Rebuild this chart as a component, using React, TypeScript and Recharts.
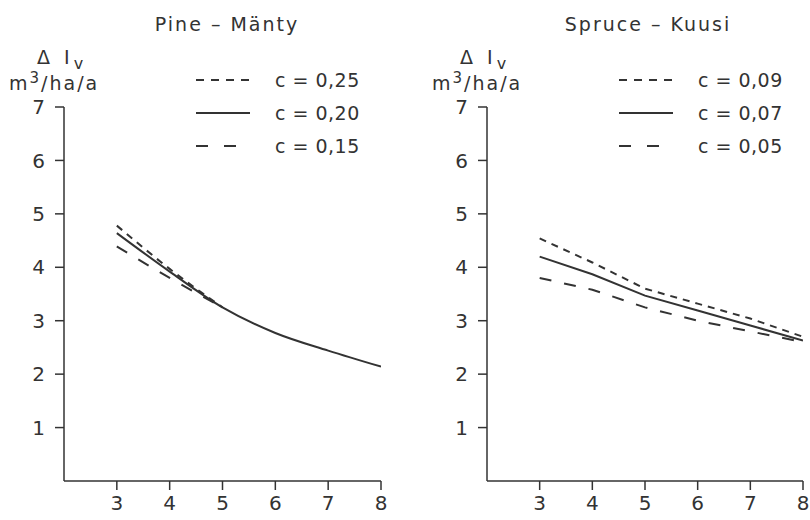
import React from "react";
import { LineChart, Line, XAxis, YAxis } from "recharts";

// stand age classes on the x axis
const xClasses = [3, 4, 5, 6, 7, 8];
const yTicks = [1, 2, 3, 4, 5, 6, 7];

// Pine - Mänty, ΔIv by c
const pineC25 = [4.78, 3.97, 3.25];
const pineC20 = [4.64, 3.92, 3.25, 2.77, 2.44, 2.14];
const pineC15 = [4.39, 3.8, 3.25];

// Spruce - Kuusi, ΔIv by c
const spruceC09 = [4.54, 4.09, 3.6, 3.32, 3.04, 2.7];
const spruceC07 = [4.2, 3.87, 3.47, 3.19, 2.91, 2.63];
const spruceC05 = [3.8, 3.58, 3.25, 3.0, 2.8, 2.6];

const INK = "#333";
const FONT = "'DejaVu Sans', sans-serif";

const SHORT = "7 6";
const LONG = "12 13";

type Series = { key: string; label: string; values: number[]; dash?: string };

const pineSeries: Series[] = [
  { key: "a", label: "c = 0,25", values: pineC25, dash: SHORT },
  { key: "b", label: "c = 0,20", values: pineC20 },
  { key: "c", label: "c = 0,15", values: pineC15, dash: LONG },
];
const spruceSeries: Series[] = [
  { key: "a", label: "c = 0,09", values: spruceC09, dash: SHORT },
  { key: "b", label: "c = 0,07", values: spruceC07 },
  { key: "c", label: "c = 0,05", values: spruceC05, dash: LONG },
];

function toRows(series: Series[]) {
  return xClasses.map((x, i) => {
    const row: Record<string, number | null> = { x };
    series.forEach((s) => {
      row[s.key] = s.values[i] ?? null;
    });
    return row;
  });
}

// line key, drawn beside the plot
function KeyBox({ series, left }: { series: Series[]; left: number }) {
  return (
    <svg width={200} height={100} style={{ position: "absolute", left, top: 68, overflow: "visible" }}>
      {series.map((s, i) => {
        const long = s.dash === LONG;
        return (
          <g key={s.key} transform={`translate(0, ${12 + i * 33})`}>
            <line
              x1={0}
              x2={long ? 40 : 54}
              y1={0}
              y2={0}
              stroke={INK}
              strokeWidth={2}
              strokeDasharray={s.dash === SHORT ? "8 7" : long ? "12 16" : undefined}
            />
            <text x={79} y={0} dy="0.36em" fontSize={19} fill={INK} fontFamily={FONT} letterSpacing={0.5}>
              {s.label}
            </text>
          </g>
        );
      })}
    </svg>
  );
}

function Panel(props: {
  series: Series[];
  left: number;
  marginLeft: number;
  marginRight: number;
  curve: "monotone" | "linear";
}) {
  const rows = toRows(props.series);
  return (
    <div style={{ position: "absolute", left: props.left, top: 0 }}>
      <LineChart
        width={405}
        height={520}
        data={rows}
        margin={{ top: 107, right: props.marginRight, bottom: 0, left: props.marginLeft }}
      >
        <XAxis
          dataKey="x"
          type="number"
          domain={[2, 8]}
          ticks={xClasses}
          height={39}
          tickSize={9}
          tickMargin={6}
          stroke={INK}
          strokeWidth={1.5}
          tick={{ fill: INK, fontSize: 20, fontFamily: FONT }}
          allowDataOverflow
        />
        <YAxis
          type="number"
          domain={[0, 7]}
          ticks={yTicks}
          width={40}
          tickSize={9}
          tickMargin={10}
          stroke={INK}
          strokeWidth={1.5}
          tick={{ fill: INK, fontSize: 20, fontFamily: FONT }}
        />
        {props.series.map((s) => (
          <Line
            key={s.key}
            dataKey={s.key}
            type={props.curve}
            stroke={INK}
            strokeWidth={2}
            strokeDasharray={s.dash}
            dot={false}
            activeDot={false}
            isAnimationActive={false}
          />
        ))}
      </LineChart>
    </div>
  );
}

function AxisTitle({ left }: { left: number }) {
  return (
    <>
      <div style={{ position: "absolute", left: left + 28, top: 46, fontSize: 19, letterSpacing: 4 }}>
        Δ I<span style={{ fontSize: 16, position: "relative", top: 5, letterSpacing: 0 }}>v</span>
      </div>
      <div style={{ position: "absolute", left, top: 69, fontSize: 19, letterSpacing: 2 }}>
        m<sup style={{ fontSize: 15, verticalAlign: "7px" }}>3</sup>/ha/a
      </div>
    </>
  );
}

export default function App() {
  return (
    <div
      style={{
        position: "absolute",
        left: 0,
        top: 0,
        width: 810,
        height: 520,
        background: "#fff",
        color: INK,
        fontFamily: FONT,
        overflow: "hidden",
      }}
    >
      <div style={{ position: "absolute", left: 147, width: 160, top: 13, textAlign: "center", fontSize: 19, letterSpacing: 2 }}>
        Pine – Mänty
      </div>
      <div style={{ position: "absolute", left: 563, width: 170, top: 13, textAlign: "center", fontSize: 19, letterSpacing: 2 }}>
        Spruce – Kuusi
      </div>
      <AxisTitle left={9} />
      <AxisTitle left={432} />
      <Panel series={pineSeries} left={0} marginLeft={24} marginRight={24} curve="monotone" />
      <Panel series={spruceSeries} left={405} marginLeft={42} marginRight={7} curve="linear" />
      <KeyBox series={pineSeries} left={196} />
      <KeyBox series={spruceSeries} left={619} />
    </div>
  );
}
